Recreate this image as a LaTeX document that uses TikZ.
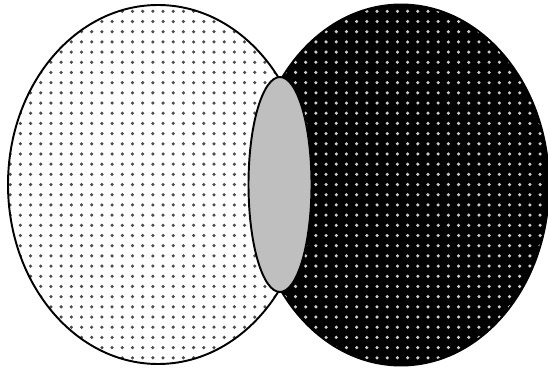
\documentclass[tikz,border=0pt]{standalone}
\usetikzlibrary{patterns.meta}

\begin{document}
\begin{tikzpicture}[x=0.02cm, y=-0.02cm,
		outline/.style={draw=black, line width=1.1pt},
		dotsblack/.style={outline, preaction={fill=white}, pattern={Dots[distance=5.8pt, radius=1pt]}, pattern color=black!70},
		dotswhite/.style={outline, preaction={fill=black}, pattern={Dots[distance=5.8pt, radius=1pt]}, pattern color=white!80!black},
		lens/.style={outline, fill=black!25}]
			\useasboundingbox (0, 0) rectangle (548, 368);
			\coordinate (leftc) at (158, 184.5);
			\coordinate (rightc) at (401, 185);
			\coordinate (midc) at (280, 184.5);
			\path[dotsblack] (leftc) ellipse [x radius=150, y radius=179.5];
			\path[dotswhite] (rightc) ellipse [x radius=148, y radius=180.5];
			\path[lens] (midc) ellipse [x radius=31.5, y radius=107.5];
		\end{tikzpicture}
\end{document}
